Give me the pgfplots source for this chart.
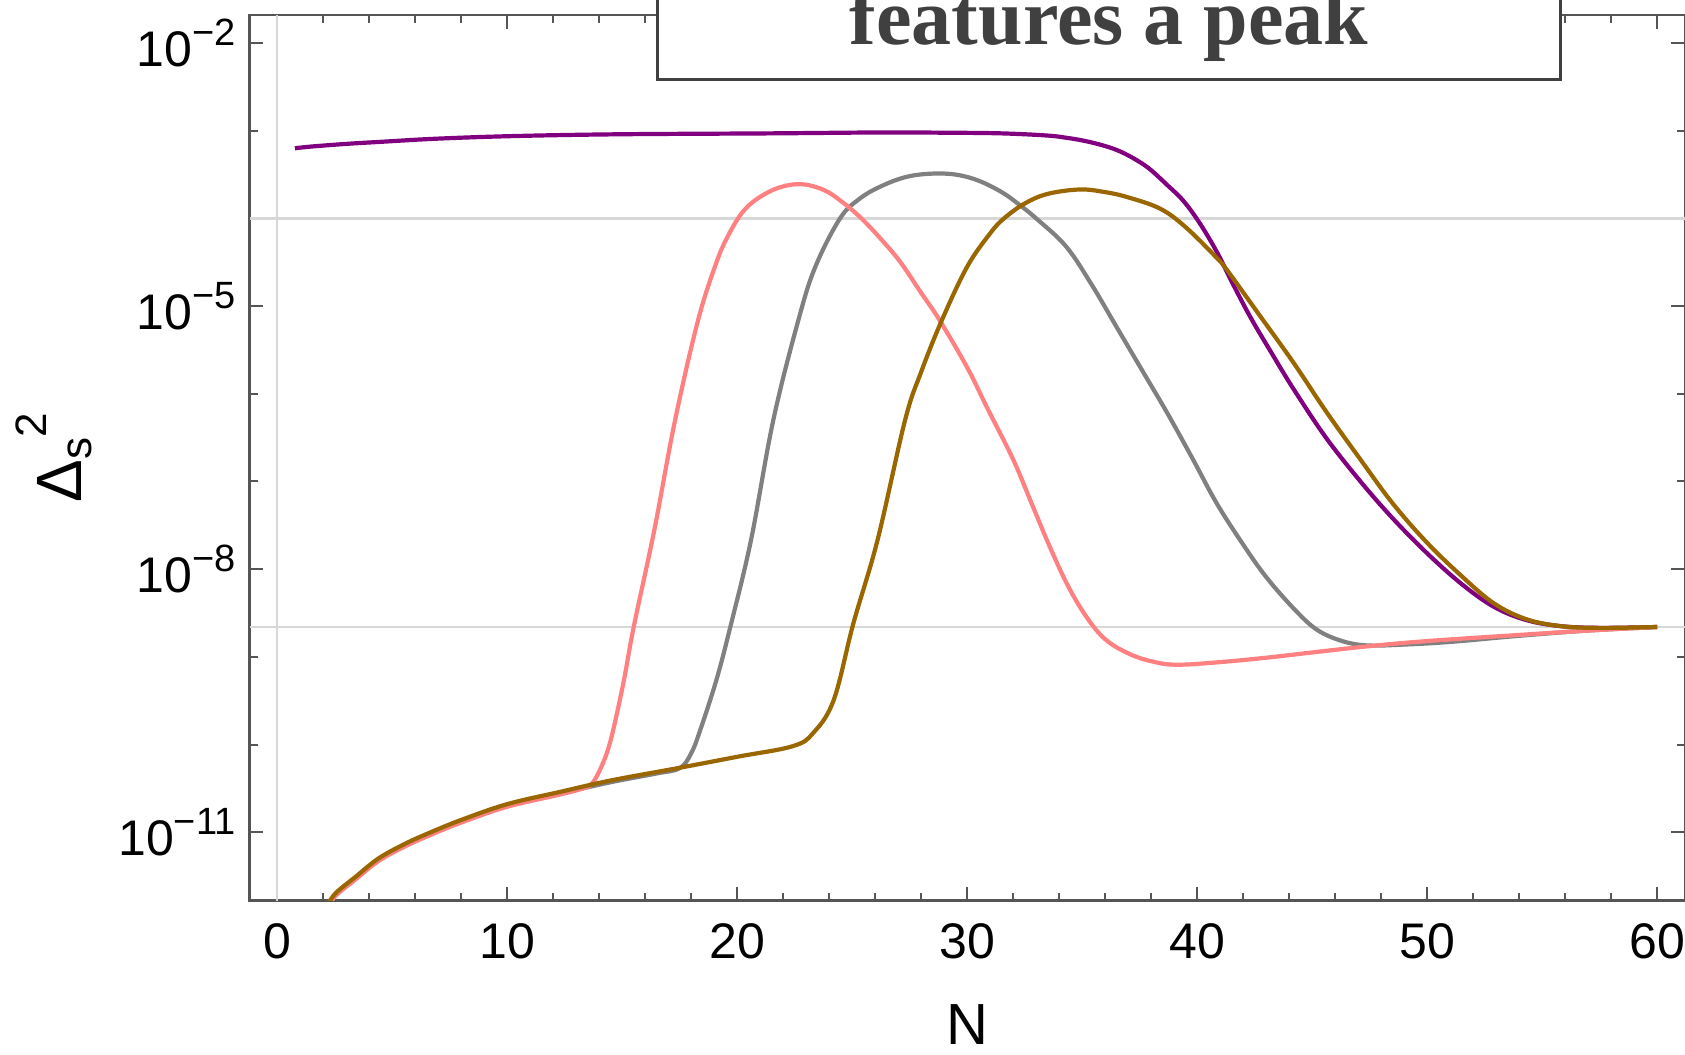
\documentclass[border=0pt]{standalone}
\usepackage{fontspec}
\setmainfont{Liberation Sans}
\newfontfamily\titlefont{Liberation Serif}
\usepackage{pgfplots}
\pgfplotsset{compat=1.18}
\definecolor{cpurple}{RGB}{128,0,128}
\definecolor{cpink}{RGB}{255,128,128}
\definecolor{cgray}{RGB}{128,128,128}
\definecolor{cbrown}{RGB}{153,102,0}
\definecolor{framec}{RGB}{85,85,85}
\definecolor{gridc}{RGB}{215,215,215}
\definecolor{titlec}{RGB}{64,64,64}
\newcommand{\pw}[1]{10\raisebox{0.8ex}{\fontsize{9.5}{9.5}\selectfont −#1}}
\begin{document}
\begin{tikzpicture}
\useasboundingbox (-62.4pt,-38.6pt) rectangle (358.85pt,225.15pt);
\begin{scope}
\clip (-62.4pt,-38.6pt) rectangle (358.85pt,225.15pt);
\begin{axis}[
  at={(0pt,0pt)}, anchor=south west,
  scale only axis, width=358.8pt, height=221.4pt,
  xmin=-1.2, xmax=61.2,
  ymode=log, ymin=1.66e-12, ymax=2.09e-2,
  xtick={0,10,20,30,40,50,60},
  xticklabels={0,10,20,30,40,50,60},
  minor x tick num=4,
  ytick={1e-11,1e-8,1e-5,1e-2},
  yticklabels={\pw{11},\pw{8},\pw{5},\pw{2}},
  minor ytick={1e-10,1e-9,1e-7,1e-6,1e-4,1e-3},
  tick align=inside,
  major tick length=3.4pt, minor tick length=2pt,
  axis line style={framec, line width=0.55pt},
  every tick/.style={framec, line width=0.5pt},
  ticklabel style={font=\fontsize{12.5}{12.5}\selectfont, text=black},
  xticklabel style={yshift=-2.3pt},
  extra x ticks={0}, extra x tick labels={},
  extra x tick style={grid=major, major tick length=0pt},
  extra y ticks={1e-4,2.19e-9}, extra y tick labels={},
  extra y tick style={grid=major, major tick length=0pt},
  major grid style={gridc, line width=0.6pt},
  xlabel={N},
  xlabel style={at={(axis description cs:0.5,0)}, anchor=center, yshift=-31pt, font=\fontsize{14.5}{14.5}\selectfont, inner sep=0pt},
  ylabel={Δ\raisebox{-0.3ex}{\fontsize{11}{11}\selectfont s}\raisebox{0.55em}{\fontsize{11}{11}\selectfont 2}},
  ylabel style={at={(axis description cs:0,0.5)}, anchor=center, yshift=48.9pt, font=\fontsize{16}{16}\selectfont, inner sep=0pt},
  every axis plot/.append style={line width=1.05pt, smooth, tension=0.6},
]
% purple
\addplot[cpurple] coordinates {
(0.77,6.31e-4) (1.5,6.61e-4) (3,7.08e-4) (4.6,7.50e-4) (7,8.13e-4) (10.4,8.71e-4)
(15,9.12e-4) (21.4,9.33e-4) (26,9.55e-4) (29,9.50e-4) (31.5,9.33e-4) (33.5,8.81e-4)
(34.3,8.32e-4) (35.0,7.76e-4) (35.8,6.92e-4) (36.5,6.03e-4) (37.2,4.90e-4) (37.9,3.72e-4)
(38.7,2.40e-4) (39.4,1.585e-4) (40.1,8.91e-5)
(40.85,4.17e-5) (41.5,1.905e-5) (42.3,7.59e-6) (43.2,3.02e-6) (44.2,1.122e-6) (45.6,3.16e-7)
(47.1,1.0e-7) (48.5,3.80e-8) (50.0,1.514e-8) (51.5,6.76e-9) (52.9,3.72e-9) (54.3,2.63e-9)
(55.8,2.24e-9) (57.5,2.14e-9) (60,2.19e-9)
};
% gray
\addplot[cgray] coordinates {
(2.1,1.318e-12) (2.3,1.585e-12) (2.6,1.995e-12) (3.4,2.951e-12) (4.4,4.786e-12) (5.5,6.918e-12)
(6.5,9.120e-12) (8,1.318e-11) (10,1.995e-11) (12.3,2.754e-11) (14.5,3.715e-11) (16.5,4.677e-11)
(17.5,5.370e-11) (18.0,7.943e-11) (18.4,1.479e-10) (19.1,5.495e-10) (19.7,2.188e-9) (20.6,2.138e-8)
(21.57,5.012e-7) (22.66,6.918e-6) (23.4,2.818e-5) (24.47,1.0e-4) (25.3,1.660e-4) (26.2,2.291e-4)
(27.3,2.951e-4) (28.4,3.236e-4) (29.5,3.162e-4) (30.5,2.692e-4) (31.5,1.995e-4) (32.2,1.479e-4)
(33.0,1.0e-4) (34.3,4.786e-5) (35.4,1.778e-5) (36.5,5.754e-6) (37.6,1.862e-6) (38.7,6.026e-7)
(39.8,1.820e-7) (40.85,5.623e-8) (42.0,1.905e-8) (43.0,8.128e-9) (44.2,3.548e-9) (45.2,2.042e-9)
(46.3,1.514e-9) (47.4,1.349e-9) (49,1.380e-9) (51,1.479e-9) (54,1.738e-9) (57,1.995e-9) (60,2.188e-9)
};
% pink
\addplot[cpink] coordinates {
(2.1,1.288e-12) (2.3,1.549e-12) (2.6,1.950e-12) (3.4,2.884e-12) (4.4,4.677e-12) (5.5,6.761e-12)
(6.5,8.913e-12) (8,1.288e-11) (10,1.950e-11) (12.3,2.692e-11) (13.3,3.162e-11) (13.7,3.631e-11)
(14.1,5.623e-11) (14.5,1.122e-10) (15.05,5.012e-10) (15.5,2.188e-9) (16.4,2.818e-8) (17.3,5.012e-7)
(18.3,6.918e-6) (19.1,3.162e-5) (19.6,6.310e-5) (20.2,1.148e-4) (20.85,1.660e-4) (21.8,2.239e-4) (22.8,2.455e-4)
(23.8,2.089e-4) (24.6,1.514e-4) (25.4,1.0e-4) (26.3,5.623e-5) (27.1,3.162e-5) (28.0,1.413e-5)
(28.8,6.918e-6) (30.0,1.995e-6) (30.85,7.079e-7) (32.0,1.778e-7) (32.8,5.623e-8) (33.6,1.778e-8)
(34.4,6.310e-9) (35.2,2.818e-9) (36.0,1.585e-9) (37.0,1.096e-9) (38.0,8.913e-10) (39.1,8.128e-10)
(41,8.710e-10) (43,9.772e-10) (45,1.122e-9) (47.4,1.318e-9) (50,1.514e-9) (54,1.778e-9)
(57,1.995e-9) (60,2.188e-9)
};
% brown
\addplot[cbrown] coordinates {
(2.1,1.380e-12) (2.3,1.660e-12) (2.6,2.089e-12) (3.4,3.090e-12) (4.4,5.012e-12) (5.5,7.244e-12)
(6.5,9.550e-12) (8,1.380e-11) (10,2.089e-11) (12.3,2.884e-11) (14.5,3.890e-11) (17.4,5.370e-11)
(20,7.244e-11) (22.4,9.550e-11) (23.3,1.349e-10) (24.2,3.236e-10) (25.05,2.399e-9) (26.1,2.138e-8)
(27.3,5.012e-7) (28.0,1.778e-6) (28.9,6.918e-6) (30,2.818e-5) (31.0,6.761e-5) (31.6,1.0e-4)
(32.5,1.479e-4) (33.5,1.905e-4) (34.9,2.138e-4) (36,1.995e-4) (37,1.738e-4) (38.4,1.288e-4)
(39.5,7.943e-5) (40.85,3.548e-5) (41.3,2.570e-5) (42.7,7.943e-6) (44.2,2.239e-6) (45.6,6.310e-7)
(47.1,1.778e-7) (48.5,5.623e-8) (50.0,1.995e-8) (51.5,8.318e-9) (52.9,4.074e-9) (54.3,2.692e-9)
(55.8,2.239e-9) (57.5,2.138e-9) (60,2.188e-9)
};
\end{axis}
\begin{pgfinterruptboundingbox}
\draw[draw=titlec, line width=0.9pt, fill=white] (102pt,205.3pt) rectangle (327.7pt,260pt);
\node[anchor=base, text=titlec, inner sep=0pt, font=\titlefont\bfseries\fontsize{20}{20}\selectfont] at (214.85pt,213.9pt) {features a peak};
\end{pgfinterruptboundingbox}
\end{scope}
\end{tikzpicture}
\end{document}
